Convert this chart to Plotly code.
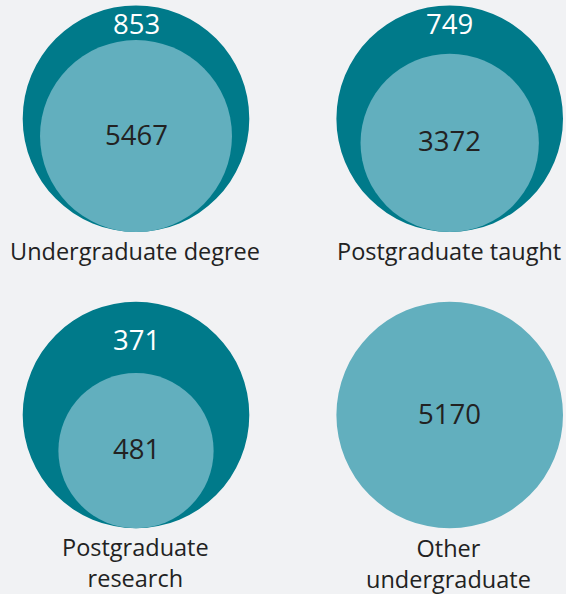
import plotly.graph_objects as go

# ---- data ----
categories = ["Undergraduate degree", "Postgraduate taught", "Postgraduate research", "Other undergraduate"]
label_lines = [["Undergraduate degree"], ["Postgraduate taught"], ["Postgraduate", "research"], ["Other", "undergraduate"]]
inner_values = [5467, 3372, 481, 5170]
outer_values = [853, 749, 371, None]

# ---- layout / style (pixel space of the 566x594 canvas) ----
W, H = 566, 594
centers = [(136, 118.7), (449.7, 118.7), (136, 415), (449.7, 415)]
R = 113.3
inner_frac = [0.847, 0.787, 0.685, 1.0]   # inner circle radius relative to outer, as drawn
outer_label_y = [23, 23, 339, None]
cat_label_y = [251, 251, 562.5, 563]

DARK = "#007A8A"
LIGHT = "#62AFBE"
BG = "#F1F2F4"
TXT = "#222222"
FONT = "Open Sans"

fig = go.Figure()
shapes = []
annotations = []
for i, cat in enumerate(categories):
    cx, cy = centers[i]
    bottom = cy + R
    if outer_values[i] is not None:
        shapes.append(dict(type="circle", xref="x", yref="y",
                           x0=cx - R, x1=cx + R, y0=cy - R, y1=cy + R,
                           fillcolor=DARK, line=dict(width=0), layer="below"))
    r = R * inner_frac[i]
    icy = bottom - r
    shapes.append(dict(type="circle", xref="x", yref="y",
                       x0=cx - r, x1=cx + r, y0=icy - r, y1=icy + r,
                       fillcolor=LIGHT, line=dict(width=0), layer="below"))
    annotations.append(dict(x=cx, y=icy - 2, text=str(inner_values[i]), showarrow=False,
                            xref="x", yref="y", font=dict(size=27.5, color=TXT, family=FONT)))
    if outer_values[i] is not None:
        annotations.append(dict(x=cx, y=outer_label_y[i], text=str(outer_values[i]), showarrow=False,
                                xref="x", yref="y", font=dict(size=27.5, color="white", family=FONT)))
    annotations.append(dict(x=cx - 1, y=cat_label_y[i], text="<br>".join(label_lines[i]), showarrow=False,
                            xref="x", yref="y", yanchor="middle",
                            font=dict(size=23.5, color=TXT, family=FONT)))

fig.update_layout(
    width=W, height=H,
    margin=dict(l=0, r=0, t=0, b=0),
    paper_bgcolor=BG, plot_bgcolor=BG,
    shapes=shapes, annotations=annotations,
    showlegend=False,
    xaxis=dict(range=[0, W], visible=False, fixedrange=True),
    yaxis=dict(range=[H, 0], visible=False, fixedrange=True),
)
fig.write_html("out.html",
               config={"displayModeBar": False},
               post_script="document.body.style.margin='0';document.body.style.background='#F1F2F4';")
